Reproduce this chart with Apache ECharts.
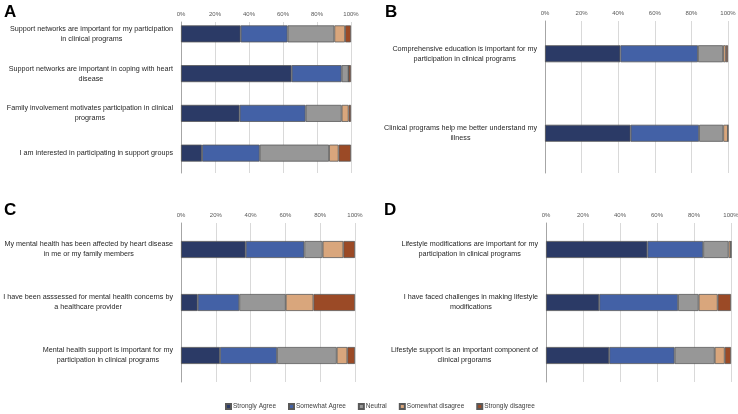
<!DOCTYPE html>
<html>
<head>
<meta charset="utf-8">
<script src="https://cdn.jsdelivr.net/npm/echarts@6/dist/echarts.min.js"></script>
<style>html,body{margin:0;padding:0;background:#fff}#c{width:738px;height:414px}</style>
</head>
<body>
<div id="c"></div>
<script>
const seriesNames = ['Strongly Agree', 'Somewhat Agree', 'Neutral', 'Somewhat disagree', 'Strongly disagree'];
const seriesColors = ['#2b3a66', '#4361a6', '#979797', '#d9a67c', '#9b4a26'];
const xTickValues = [0, 20, 40, 60, 80, 100];

const catA = ['Support networks are important for my participation\nin clinical programs', 'Support networks are important in coping with heart\ndisease', 'Family involvement motivates participation in clinical\nprograms', 'I am interested in participating in support groups'];
const aStronglyAgree = [35.1, 65.1, 34.5, 12.4];
const aSomewhatAgree = [27.6, 29.4, 38.8, 33.9];
const aNeutral = [27.5, 4.1, 21.2, 40.8];
const aSomewhatDisagree = [6.3, 0, 4.1, 5.6];
const aStronglyDisagree = [3.5, 1.4, 1.4, 7.3];

const catB = ['Comprehensive education is important for my\nparticipation in clinical programs', 'Clinical programs help me better understand my\nillness'];
const bStronglyAgree = [41.2, 46.8];
const bSomewhatAgree = [42.4, 37.4];
const bNeutral = [13.7, 13.2];
const bSomewhatDisagree = [1.5, 2.6];
const bStronglyDisagree = [1.2, 0];

const catC = ['My mental health has been affected by heart disease\nin me or my family members', 'I have been asssessed for mental health concerns by\na healthcare provider', 'Mental health support is important for my\nparticipation in clinical programs'];
const cStronglyAgree = [37.2, 9.6, 22.4];
const cSomewhatAgree = [33.7, 23.9, 32.8];
const cNeutral = [10.5, 26.7, 34.3];
const cSomewhatDisagree = [11.9, 15.9, 6.1];
const cStronglyDisagree = [6.7, 23.9, 4.4];

const catD = ['Lifestyle modifications are important for my\nparticipation in clinical programs', 'I have faced challenges in making lifestyle\nmodifications', 'Lifestyle support is an important component of\nclinical prgorams'];
const dStronglyAgree = [54.8, 28.8, 34.2];
const dSomewhatAgree = [30.2, 42.6, 35.3];
const dNeutral = [13.7, 11.1, 21.7];
const dSomewhatDisagree = [1.3, 10.3, 5.4];
const dStronglyDisagree = [0, 7.2, 3.4];

const panelLetters = ['A', 'B', 'C', 'D'];

const FONT = 'Liberation Sans';
const panels = [
  { cats: catA, vals: [aStronglyAgree, aSomewhatAgree, aNeutral, aSomewhatDisagree, aStronglyDisagree],
    left: 181, width: 170, top: 14, height: 159, decoTop: 22, letter: {left: 4, top: 4} },
  { cats: catB, vals: [bStronglyAgree, bSomewhatAgree, bNeutral, bSomewhatDisagree, bStronglyDisagree],
    left: 545, width: 183, top: 14, height: 159, decoTop: 21, letter: {left: 385, top: 4} },
  { cats: catC, vals: [cStronglyAgree, cSomewhatAgree, cNeutral, cSomewhatDisagree, cStronglyDisagree],
    left: 181, width: 174, top: 223, height: 159, decoTop: 223, letter: {left: 4, top: 202} },
  { cats: catD, vals: [dStronglyAgree, dSomewhatAgree, dNeutral, dSomewhatDisagree, dStronglyDisagree],
    left: 546, width: 185, top: 223, height: 159, decoTop: 223, letter: {left: 384, top: 202} }
];

const grid = [], xAxis = [], yAxis = [], series = [], title = [];
panels.forEach((p, i) => {
  grid.push({ left: p.left, width: p.width, top: p.top, height: p.height, containLabel: false, outerBoundsMode: 'none' });
  xAxis.push({ gridIndex: i, type: 'value', min: 0, max: 100, show: false });
  yAxis.push({
    gridIndex: i, type: 'category', data: p.cats, inverse: true,
    axisLine: { show: false }, axisTick: { show: false }, splitLine: { show: false },
    axisLabel: {
      margin: 8,
      formatter: v => v.split('\n').map(l => '{c|' + l + '}').join('\n'),
      rich: { c: { align: 'center', fontSize: 7.2, lineHeight: 10, fontFamily: FONT, color: '#262626' } }
    }
  });
  title.push({ text: panelLetters[i], left: p.letter.left, top: p.letter.top, padding: 0,
    textStyle: { fontSize: 17, fontWeight: 'bold', fontFamily: FONT, color: '#000' } });
  p.vals.forEach((arr, k) => {
    series.push({
      name: seriesNames[k], type: 'bar', stack: 'p' + i, xAxisIndex: i, yAxisIndex: i,
      data: arr, barWidth: 17, z: 3,
      itemStyle: { color: seriesColors[k], borderColor: '#595959', borderWidth: 0.8 },
      emphasis: { disabled: true }
    });
  });
});
panels.forEach((p, i) => {
  const gi = grid.length;
  grid.push({ left: p.left, width: p.width, top: p.decoTop, height: p.top + p.height - p.decoTop, containLabel: false, outerBoundsMode: 'none' });
  xAxis.push({
    gridIndex: gi, type: 'value', min: xTickValues[0], max: xTickValues[xTickValues.length - 1], interval: 20,
    position: 'top', axisLine: { show: false }, axisTick: { show: false },
    splitLine: { show: true, lineStyle: { color: '#d9d9d9', width: 1 } },
    axisLabel: { margin: 5, fontSize: 6, fontFamily: FONT, color: '#595959', formatter: '{value}%' }
  });
  yAxis.push({
    gridIndex: gi, type: 'value', min: 0, max: 1,
    axisLine: { show: true, lineStyle: { color: '#a6a6a6', width: 1 } },
    axisTick: { show: false }, axisLabel: { show: false }, splitLine: { show: false }
  });
});

const chart = echarts.init(document.getElementById('c'), null, { renderer: 'canvas' });
chart.setOption({
  animation: false,
  backgroundColor: '#ffffff',
  title: title,
  grid: grid, xAxis: xAxis, yAxis: yAxis, series: series,
  legend: {
    data: seriesNames, left: 225, top: 403, itemWidth: 5, itemHeight: 5, itemGap: 12,
    icon: 'rect', padding: 0,
    textStyle: { fontSize: 6.5, fontFamily: FONT, color: '#404040', padding: [0, 0, 0, -3] }
  }
});
</script>
</body>
</html>
